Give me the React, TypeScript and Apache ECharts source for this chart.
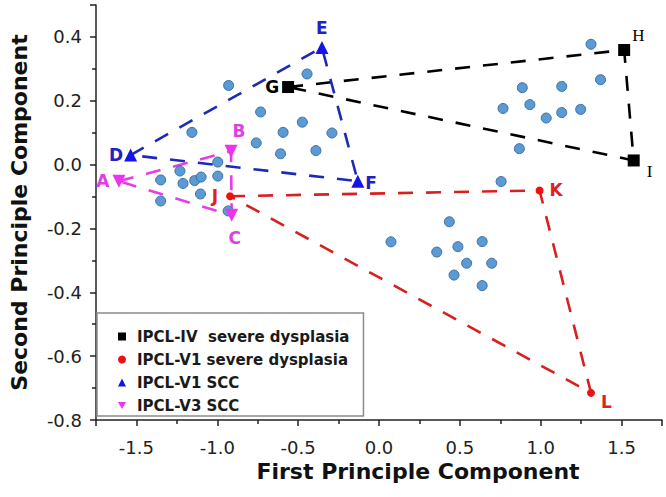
import React, { useEffect, useRef } from 'react';
import * as echarts from 'echarts';

// PCA scores of the individual samples (blue dots)
const scoreX = [
  -0.93, -1.157, -0.732, -0.445, -0.593, -0.474, -0.291, -0.759, -0.609, -0.39,
  -0.997, -1.231, -1.35, -1.212, -1.14, -1.1, -0.997, -1.104, -1.35, -0.933,
  1.311, 1.37, 0.886, 1.13, 0.767, 0.933, 1.034, 1.13, 1.247, 0.868,
  0.755, 0.435, 0.074, 0.357, 0.488, 0.638, 0.542, 0.697, 0.464, 0.638,
];
const scoreY = [
  0.248, 0.101, 0.165, 0.284, 0.101, 0.133, 0.099, 0.068, 0.034, 0.044,
  0.008, -0.02, -0.048, -0.059, -0.05, -0.039, -0.036, -0.092, -0.114, -0.145,
  0.377, 0.266, 0.241, 0.245, 0.176, 0.188, 0.146, 0.163, 0.173, 0.05,
  -0.053, -0.179, -0.242, -0.274, -0.257, -0.241, -0.309, -0.309, -0.346, -0.379,
];

// Group vertices
const ipclIVX = [-0.562, 1.516, 1.575];
const ipclIVY = [0.243, 0.359, 0.013];
const ipclIVLabels = ['G', 'H', 'I'];

const ipclV1DysX = [-0.921, 0.993, 1.311];
const ipclV1DysY = [-0.099, -0.081, -0.715];
const ipclV1DysLabels = ['J', 'K', 'L'];

const ipclV1SccX = [-1.536, -0.353, -0.131];
const ipclV1SccY = [0.03, 0.367, -0.052];
const ipclV1SccLabels = ['D', 'E', 'F'];

const ipclV3SccX = [-1.608, -0.915, -0.911];
const ipclV3SccY = [-0.052, 0.042, -0.159];
const ipclV3SccLabels = ['A', 'B', 'C'];

const legendNames = [
  'IPCL-IV  severe dysplasia',
  'IPCL-V1 severe dysplasia',
  'IPCL-V1 SCC',
  'IPCL-V3 SCC',
];

const xAxisTitle = 'First Principle Component';
const yAxisTitle = 'Second Principle Component';

const labelPlacement: Record<string, any> = {
  G: { position: 'left', distance: 3 },
  H: { position: 'right', distance: 2, offset: [0, -15], fontFamily: 'Liberation Serif', fontWeight: 'normal' },
  I: { position: 'right', distance: 7, offset: [0, 11], fontFamily: 'Liberation Serif', fontWeight: 'normal' },
  D: { position: 'left', distance: 1 },
  E: { position: 'top', distance: 4 },
  F: { position: 'right', distance: 1, offset: [0, 2] },
  A: { position: 'left', distance: 3 },
  B: { position: 'top', distance: 5, offset: [8, 0] },
  C: { position: 'bottom', distance: 8, offset: [3, 0] },
  J: { position: 'left', distance: 8 },
  K: { position: 'right', distance: 6 },
  L: { position: 'right', distance: 6, offset: [0, 9] },
};

const zip = (xs: number[], ys: number[]) => xs.map((x, i) => [x, ys[i]]);

function groupSeries(
  name: string, xs: number[], ys: number[], labels: string[],
  symbol: string, size: number, color: string, labelColor: string, rotate = 0,
) {
  return {
    type: 'scatter',
    name,
    symbol,
    symbolSize: size,
    symbolRotate: rotate,
    itemStyle: { color, opacity: 1 },
    z: 5,
    data: xs.map((x, i) => ({
      value: [x, ys[i]],
      name: labels[i],
      label: {
        show: true,
        formatter: labels[i],
        color: labelColor,
        fontFamily: 'DejaVu Sans',
        fontWeight: 'bold',
        fontSize: 17,
        ...labelPlacement[labels[i]],
      },
    })),
  };
}

function polygonSeries(name: string, xs: number[], ys: number[], color: string) {
  const pts = zip(xs, ys);
  pts.push(pts[0]);
  return {
    type: 'line',
    name,
    data: pts,
    symbol: 'none',
    silent: true,
    z: 2,
    lineStyle: { color, width: 2.6, type: [15, 13] },
  };
}

export default function App() {
  const ref = useRef<HTMLDivElement>(null);
  useEffect(() => {
    if (!ref.current) return;
    const chart = echarts.init(ref.current, null, { renderer: 'svg' });
    const axisFont = { fontFamily: 'DejaVu Sans', fontSize: 18, color: '#222' };
    chart.setOption({
      animation: false,
      backgroundColor: '#fff',
      grid: { left: 94, top: 5, width: 568, height: 415 },
      legend: {
        data: [
          { name: legendNames[0], icon: 'rect' },
          { name: legendNames[1], icon: 'circle' },
          { name: legendNames[2], icon: 'triangle' },
          { name: legendNames[3], icon: 'path://M0,0 L10,0 L5,9 Z' },
        ],
        orient: 'vertical',
        left: 97,
        top: 313,
        itemWidth: 8,
        itemHeight: 8,
        itemGap: 6,
        padding: [15, 14, 2, 21],
        borderColor: '#8a8a8a',
        borderWidth: 1.5,
        textStyle: {
          fontFamily: 'DejaVu Sans', fontWeight: 'bold', fontSize: 15,
          color: '#1a1a1a', lineHeight: 17, padding: [0, 0, 0, 6],
        },
      },
      xAxis: {
        type: 'value',
        min: -1.75,
        max: 1.75,
        splitNumber: 7,
        name: xAxisTitle,
        nameLocation: 'middle',
        nameGap: 39,
        nameTextStyle: {
          fontFamily: 'DejaVu Sans', fontWeight: 'bold', fontSize: 22, color: '#111',
          padding: [0, 0, 0, 78],
        },
        axisLine: { show: true, onZero: false, lineStyle: { color: '#222', width: 1.5 } },
        axisTick: { show: true, inside: false, length: 6, lineStyle: { color: '#222', width: 1.5 } },
        minorTick: { show: true, splitNumber: 2, length: 4, lineStyle: { color: '#222', width: 1.5 } },
        splitLine: { show: false },
        axisLabel: {
          ...axisFont,
          margin: 18,
          formatter: (v: number) =>
            Math.abs(v * 2 - Math.round(v * 2)) < 1e-9 ? v.toFixed(1) : '',
        },
      },
      yAxis: {
        type: 'value',
        min: -0.8,
        max: 0.5,
        interval: 0.2,
        name: yAxisTitle,
        nameLocation: 'middle',
        nameGap: 66,
        nameTextStyle: { fontFamily: 'DejaVu Sans', fontWeight: 'bold', fontSize: 22, color: '#111' },
        axisLine: { show: true, onZero: false, lineStyle: { color: '#222', width: 1.5 } },
        axisTick: { show: true, inside: false, length: 6, lineStyle: { color: '#222', width: 1.5 } },
        minorTick: { show: true, splitNumber: 2, length: 4, lineStyle: { color: '#222', width: 1.5 } },
        splitLine: { show: false },
        axisLabel: {
          ...axisFont,
          margin: 14,
          formatter: (v: number) => (Math.abs(v - 0.5) < 1e-9 ? '' : v.toFixed(1)),
        },
      },
      series: [
        polygonSeries('poly IV', ipclIVX, ipclIVY, '#000000'),
        polygonSeries('poly V1 dys', ipclV1DysX, ipclV1DysY, '#d92020'),
        polygonSeries('poly V1 SCC', ipclV1SccX, ipclV1SccY, '#1b2bb8'),
        polygonSeries('poly V3 SCC', ipclV3SccX, ipclV3SccY, '#e83ce8'),
        {
          type: 'scatter',
          name: 'scores',
          symbol: 'circle',
          symbolSize: 10,
          z: 3,
          itemStyle: { color: '#5b9bd5', borderColor: '#3f6f9e', borderWidth: 1, opacity: 1 },
          data: zip(scoreX, scoreY),
        },
        groupSeries(legendNames[0], ipclIVX, ipclIVY, ipclIVLabels, 'rect', 12, '#000000', '#000000'),
        groupSeries(legendNames[1], ipclV1DysX, ipclV1DysY, ipclV1DysLabels, 'circle', 8, '#ee1111', '#dd2222'),
        groupSeries(legendNames[2], ipclV1SccX, ipclV1SccY, ipclV1SccLabels, 'triangle', 13, '#1414e6', '#2222c4'),
        groupSeries(legendNames[3], ipclV3SccX, ipclV3SccY, ipclV3SccLabels, 'triangle', 13, '#ee33ee', '#e040e0', 180),
      ],
    });
    return () => chart.dispose();
  }, []);
  return (
    <div
      ref={ref}
      style={{ position: 'absolute', left: 0, top: 0, width: 666, height: 497, background: '#fff' }}
    />
  );
}
